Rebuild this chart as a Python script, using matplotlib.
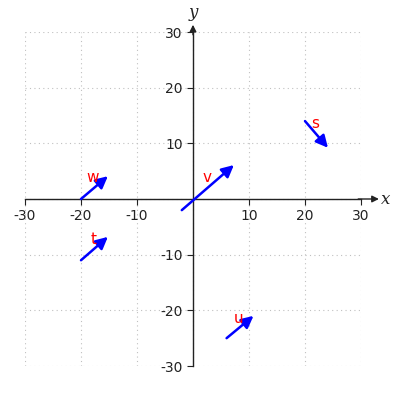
import matplotlib
matplotlib.use("Agg")
import matplotlib.pyplot as plt

names = ["w", "v", "s", "t", "u"]
tail_x = [-20, -2, 20, -20, 6]
tail_y = [0, -2, 14, -11, -25]
vec_x = [4.8, 9.3, 4.1, 4.8, 4.8]
vec_y = [4.1, 8.1, -4.8, 4.2, 4.0]
label_x = [-17.9, 2.5, 21.8, -17.7, 8.2]
label_y = [3.8, 3.8, 13.5, -7.2, -21.4]
ticks = [-30, -20, -10, 10, 20, 30]

fig = plt.figure(figsize=(4, 4), dpi=100)
ax = fig.add_axes([0.0625, 0.085, 0.84, 0.835])
ax.set_xlim(-30, 30)
ax.set_ylim(-30, 30)

for s in ["top", "right"]:
    ax.spines[s].set_visible(False)
ax.spines["left"].set_position("zero")
ax.spines["bottom"].set_position("zero")
for s in ["left", "bottom"]:
    ax.spines[s].set_color("#222222")
    ax.spines[s].set_linewidth(1.0)

ax.set_xticks(ticks)
ax.set_yticks(ticks)
ax.set_xticklabels([str(t) for t in ticks])
ax.set_yticklabels([str(t) for t in ticks])
ax.tick_params(colors="#222222", labelsize=10, direction="out", length=4)

# grid
for t in [-30, -20, -10, 0, 10, 20, 30]:
    ax.plot([t, t], [-30, 30], ls=(0, (1, 3)), color="#c0c0c0", lw=0.8, zorder=0)
    ax.plot([-30, 30], [t, t], ls=(0, (1, 3)), color="#c0c0c0", lw=0.8, zorder=0)

# axis arrow extensions
ax.annotate("", xy=(33.2, 0), xytext=(29.5, 0),
            arrowprops=dict(arrowstyle="-|>", color="#222222", lw=1.0,
                            mutation_scale=10, shrinkA=0, shrinkB=0),
            annotation_clip=False)
ax.annotate("", xy=(0, 31.3), xytext=(0, 29.5),
            arrowprops=dict(arrowstyle="-|>", color="#222222", lw=1.0,
                            mutation_scale=10, shrinkA=0, shrinkB=0),
            annotation_clip=False)
ax.text(33.6, 0, "x", family="serif", style="italic", fontsize=12,
        ha="left", va="center", color="#222222")
ax.text(0, 32.0, "y", family="serif", style="italic", fontsize=12,
        ha="center", va="bottom", color="#222222")

for n, x0, y0, dx, dy, lx, ly in zip(names, tail_x, tail_y, vec_x, vec_y, label_x, label_y):
    ax.annotate("", xy=(x0 + dx, y0 + dy), xytext=(x0, y0),
                arrowprops=dict(arrowstyle="-|>", color="blue", lw=1.8,
                                mutation_scale=18, shrinkA=0, shrinkB=0),
                annotation_clip=False)
    ax.text(lx, ly, n, color="red", fontsize=11, ha="center", va="center")

fig.savefig("out.png", dpi=100)
